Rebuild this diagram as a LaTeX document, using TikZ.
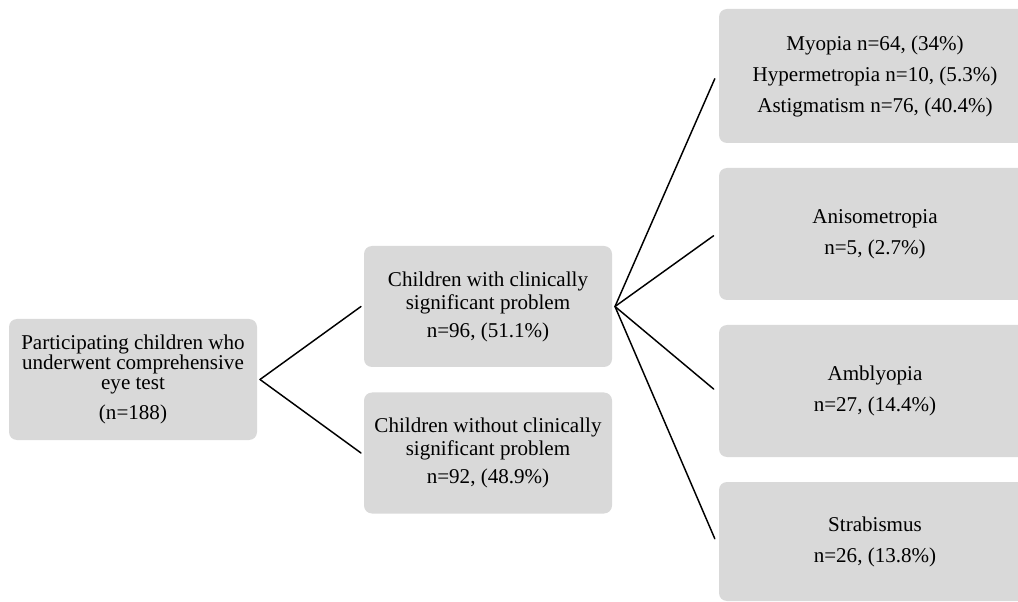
\documentclass[tikz,border=0pt]{standalone}
\usepackage{fontspec}
\setmainfont{Liberation Serif}
\usepackage{tikz}
\definecolor{boxgray}{HTML}{D9D9D9}
\tikzset{
	box/.style={fill=boxgray,rounded corners=6pt,align=center,inner sep=0pt,outer sep=2.25pt},
	levelone/.style={box,minimum width=186pt,minimum height=90.75pt,font=\fontsize{15.8}{15}\selectfont},
	leveltwo/.style={box,minimum width=186pt,minimum height=90.75pt,font=\fontsize{15.8}{17.25}\selectfont},
	levelthree/.style={box,minimum width=234pt,font=\fontsize{15.8}{23.25}\selectfont},
	link/.style={line width=1.1pt}
}
\begin{document}
\begin{tikzpicture}[line cap=round,line join=round,x=0.75pt,y=-0.75pt]
		\useasboundingbox (0,0) rectangle (1018,602);
		\clip (0,0) rectangle (1018,602);
		\node[levelone] (root) at (133,379.5) {Participating children who\\underwent comprehensive\\eye test\\[7.5pt](n=188)};
		\node[leveltwo] (with) at (488,306.5) {Children with clinically\\significant problem\\[3.75pt]n=96, (51.1\%)};
		\node[leveltwo] (without) at (488,453) {Children without clinically\\significant problem\\[3.75pt]n=92, (48.9\%)};
		\node[levelthree,minimum height=100.5pt] (refr) at (875,76) {Myopia n=64, (34\%)\\Hypermetropia n=10, (5.3\%)\\Astigmatism n=76, (40.4\%)};
		\node[levelthree,minimum height=99pt] (aniso) at (875,234) {Anisometropia\\n=5, (2.7\%)};
		\node[levelthree,minimum height=99pt] (ambly) at (875,391) {Amblyopia\\n=27, (14.4\%)};
		\node[levelthree,minimum height=89.25pt] (strab) at (875,541.5) {Strabismus\\n=26, (13.8\%)};
		\draw[link] (root.east) -- (with.west);
		\draw[link] (root.east) -- (without.west);
		\draw[link,shorten >=2.25pt] (with.east) -- (refr.west);
		\draw[link,shorten >=2.25pt] (with.east) -- (aniso.west);
		\draw[link,shorten >=2.25pt] (with.east) -- (ambly.west);
		\draw[link,shorten >=2.25pt] (with.east) -- (strab.west);
\end{tikzpicture}
\end{document}
